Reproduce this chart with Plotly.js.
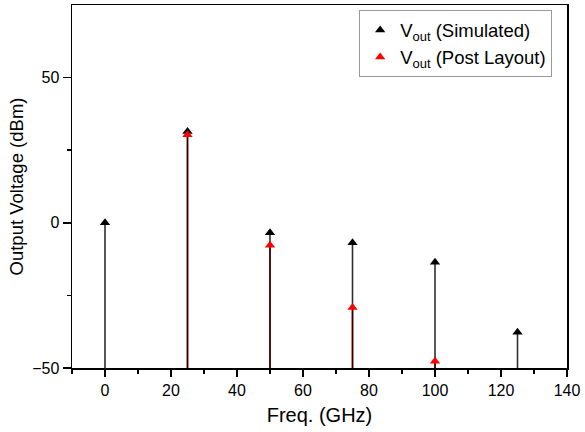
<!DOCTYPE html>
<html>
<head>
<meta charset="utf-8">
<script src="https://cdn.plot.ly/plotly-3.0.1.min.js"></script>
<style>html,body{margin:0;padding:0;background:#fff;}#chart{width:585px;height:432px;}</style>
</head>
<body>
<div id="chart"></div>
<script>
const simFreq = [0, 25, 50, 75, 100, 125];
const simVout = [0, 31.4, -3.4, -6.9, -13.6, -37.7];
const postFreq = [25, 50, 75, 100];
const postVout = [30.3, -7.7, -29.2, -47.7];
const baseLevel = -50;

function stems(xs, ys) {
  const x = [], y = [];
  xs.forEach((v, i) => { x.push(v, v, null); y.push(baseLevel, ys[i], null); });
  return {x, y};
}
const sStem = stems(simFreq, simVout);
const pStem = stems(postFreq, postVout);

const traces = [
  {x: pStem.x, y: pStem.y, mode: 'lines', line: {color: 'rgb(230,0,0)', width: 1.6}, showlegend: false, hoverinfo: 'skip'},
  {x: sStem.x, y: sStem.y, mode: 'lines', line: {color: 'rgba(0,0,0,0.82)', width: 1.6}, showlegend: false, hoverinfo: 'skip'},
  {x: simFreq, y: simVout, mode: 'markers', name: 'V<sub>out</sub> (Simulated)',
   marker: {symbol: 'triangle-up', size: 9, color: '#000'}},
  {x: postFreq, y: postVout, mode: 'markers', name: 'V<sub>out</sub> (Post Layout)',
   marker: {symbol: 'triangle-up', size: 9, color: '#ff0000'}}
];

const fontFam = 'Arial, Liberation Sans, sans-serif';
const layout = {
  width: 585, height: 432,
  margin: {l: 72, r: 18, t: 5, b: 64},
  paper_bgcolor: '#fff', plot_bgcolor: '#fff',
  font: {family: fontFam, size: 16, color: '#000'},
  showlegend: true,
  legend: {x: 0.97, y: 0.985, xanchor: 'right', yanchor: 'top',
           bgcolor: '#fff', bordercolor: '#999', borderwidth: 1,
           font: {size: 18.5, family: fontFam}, itemwidth: 30, tracegroupgap: 0},
  xaxis: {
    range: [-10, 140], tickmode: 'linear', tick0: 0, dtick: 20,
    showgrid: false, zeroline: false,
    showline: true, linecolor: '#000', linewidth: 1.5, mirror: true,
    ticks: 'outside', ticklen: 7, tickwidth: 1.5, tickcolor: '#000',
    minor: {ticks: 'outside', ticklen: 4, dtick: 10, tick0: 0, tickwidth: 1.5, tickcolor: '#000', showgrid: false},
    tickfont: {size: 16, family: fontFam},
    title: {text: 'Freq. (GHz)', font: {size: 20, family: fontFam}, standoff: 10}
  },
  yaxis: {
    range: [-50, 75], tickmode: 'array', tickvals: [-50, 0, 50],
    showgrid: false, zeroline: false,
    showline: true, linecolor: '#000', linewidth: 1.5, mirror: true,
    ticks: 'outside', ticklen: 8, tickwidth: 1.5, tickcolor: '#000',
    minor: {ticks: 'outside', ticklen: 4, tickvals: [-25, 25], tickwidth: 1.5, tickcolor: '#000', showgrid: false},
    tickfont: {size: 16, family: fontFam},
    title: {text: 'Output Voltage (dBm)', font: {size: 18.5, family: fontFam}, standoff: 3}
  }
};

Plotly.newPlot('chart', traces, layout, {displayModeBar: false, staticPlot: true});
</script>
</body>
</html>
